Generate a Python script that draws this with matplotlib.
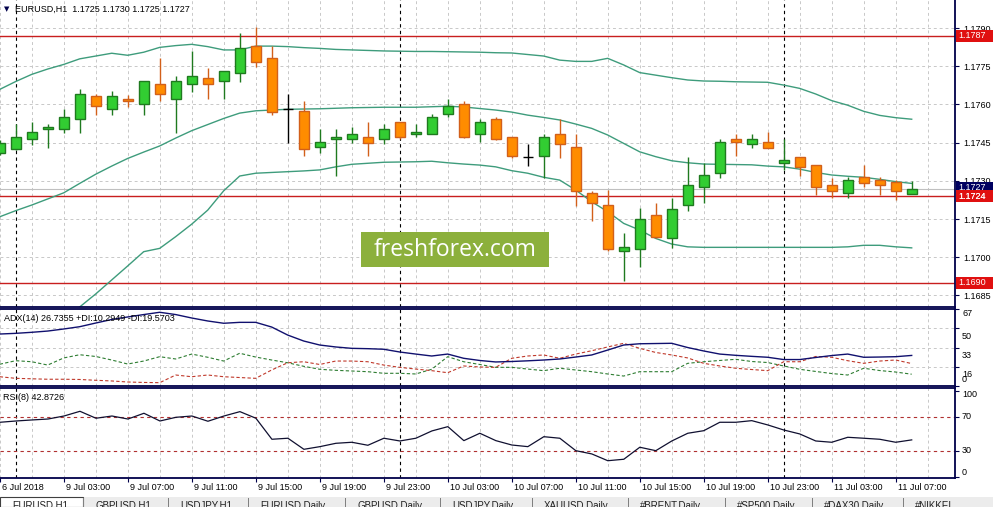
import numpy as np
import matplotlib
matplotlib.use("Agg")
import matplotlib.pyplot as plt
from matplotlib.patches import Rectangle
from matplotlib.transforms import blended_transform_factory as btf

# ---------------- data ----------------
bars = np.arange(-1, 57)  # hourly bars: 6 Jul 23:00 ... 11 Jul 08:00
opens = [1.1741, 1.17425, 1.17463, 1.17502, 1.17502, 1.17542, 1.17632, 1.17581, 1.1762, 1.1760,
         1.17679, 1.1762, 1.17679, 1.17703, 1.17691, 1.17722, 1.17829, 1.17781, 1.17581, 1.17574,
         1.17432, 1.17463, 1.17463, 1.17471, 1.17463, 1.1753, 1.17483, 1.17483, 1.17561, 1.1760,
         1.17483, 1.17542, 1.17471, 1.17392, 1.17399, 1.17483, 1.17432, 1.17253, 1.17204, 1.17023,
         1.17034, 1.17165, 1.17074, 1.17204, 1.17275, 1.17332, 1.17464, 1.17443, 1.17451, 1.17371,
         1.17394, 1.17361, 1.17282, 1.17253, 1.17314, 1.17302, 1.17294, 1.1725]
highs = [1.1746, 1.17523, 1.17532, 1.17522, 1.17581, 1.17661, 1.17641, 1.17653, 1.17638, 1.17693,
         1.17782, 1.17712, 1.1781, 1.17742, 1.17732, 1.17879, 1.17903, 1.17829, 1.17641, 1.17613,
         1.17503, 1.17505, 1.1751, 1.1753, 1.17523, 1.17533, 1.17523, 1.17561, 1.17621, 1.17613,
         1.17542, 1.17549, 1.17472, 1.17443, 1.17483, 1.17542, 1.17483, 1.17261, 1.17264, 1.17094,
         1.17192, 1.17214, 1.17231, 1.17392, 1.17371, 1.17464, 1.17484, 1.17484, 1.17491, 1.17464,
         1.17394, 1.17361, 1.17312, 1.17316, 1.17363, 1.17315, 1.17302, 1.1730]
lows = [1.1740, 1.17421, 1.17442, 1.1743, 1.17489, 1.17489, 1.17558, 1.1756, 1.17591, 1.1756,
        1.17612, 1.17489, 1.1765, 1.1762, 1.1762, 1.17689, 1.17748, 1.17558, 1.1745, 1.17397,
        1.1741, 1.1732, 1.1745, 1.17399, 1.17443, 1.17464, 1.17471, 1.17482, 1.17549, 1.1747,
        1.17451, 1.17462, 1.17391, 1.17359, 1.1731, 1.17391, 1.17202, 1.17143, 1.17023, 1.16908,
        1.16963, 1.17074, 1.17035, 1.17183, 1.17212, 1.17312, 1.17399, 1.1743, 1.1743, 1.17343,
        1.1732, 1.17246, 1.17231, 1.17231, 1.17275, 1.17246, 1.17224, 1.1725]
closes = [1.17449, 1.17472, 1.17491, 1.17511, 1.17549, 1.1764, 1.17593, 1.17632, 1.17612, 1.17691,
          1.1764, 1.17691, 1.1771, 1.17679, 1.1773, 1.1782, 1.17768, 1.17571, 1.17581, 1.17424,
          1.17451, 1.17471, 1.17483, 1.1745, 1.17502, 1.17471, 1.17491, 1.17549, 1.17593, 1.17471,
          1.1753, 1.17463, 1.17399, 1.17392, 1.17471, 1.17443, 1.17261, 1.17212, 1.17034, 1.17041,
          1.17151, 1.17081, 1.17191, 1.17282, 1.17322, 1.17451, 1.17451, 1.17464, 1.1743, 1.17381,
          1.17353, 1.17275, 1.17261, 1.17302, 1.17293, 1.17282, 1.17261, 1.1727]

bb_upper = [1.17659, 1.1769, 1.17718, 1.17739, 1.17757, 1.17779, 1.1779, 1.17801, 1.17793, 1.17805,
            1.17824, 1.17831, 1.17836, 1.17827, 1.17814, 1.17814, 1.17829, 1.17829, 1.17827, 1.17823,
            1.1782, 1.17816, 1.17814, 1.17812, 1.1781, 1.17809, 1.17808, 1.17808, 1.17807, 1.17806,
            1.17805, 1.17803, 1.17802, 1.17796, 1.1779, 1.17774, 1.17769, 1.17769, 1.17781, 1.17755,
            1.17725, 1.17715, 1.17705, 1.17696, 1.17692, 1.17691, 1.17689, 1.17688, 1.17687, 1.17676,
            1.17663, 1.17641, 1.17615, 1.17597, 1.17573, 1.17557, 1.17548, 1.17542]
bb_middle = [1.17159, 1.17183, 1.17205, 1.17229, 1.17253, 1.1729, 1.17326, 1.17358, 1.17388, 1.17413,
             1.17437, 1.17468, 1.17497, 1.17521, 1.17545, 1.17566, 1.17575, 1.17578, 1.17581, 1.17582,
             1.17583, 1.17585, 1.17587, 1.17588, 1.17589, 1.17589, 1.17589, 1.17591, 1.17593, 1.1759,
             1.17584, 1.17578, 1.1757, 1.17558, 1.17549, 1.17539, 1.17523, 1.17506, 1.1748, 1.17447,
             1.17414, 1.17395, 1.17379, 1.17371, 1.17366, 1.17365, 1.17364, 1.17363, 1.17358, 1.17355,
             1.17346, 1.17333, 1.17323, 1.17318, 1.17314, 1.17306, 1.17297, 1.1729]
bb_lower = [np.nan, np.nan, np.nan, np.nan, 1.16754, 1.16805, 1.16856, 1.16911, 1.16966, 1.17022,
            1.17035, 1.17081, 1.1713, 1.17185, 1.17261, 1.17319, 1.1733, 1.17333, 1.17336, 1.17339,
            1.17343, 1.17355, 1.17365, 1.17369, 1.17373, 1.17374, 1.17375, 1.17377, 1.17371, 1.17366,
            1.17362, 1.17355, 1.1734, 1.1733, 1.17314, 1.17303, 1.17264, 1.17218, 1.17179, 1.17133,
            1.17107, 1.17074, 1.17052, 1.17041, 1.17039, 1.17039, 1.17039, 1.17039, 1.17039, 1.17039,
            1.17039, 1.17039, 1.17039, 1.17041, 1.17047, 1.17047, 1.17041, 1.17037]

adx = [45.4, 46.0, 46.9, 48.0, 49.8, 51.8, 55.0, 58.1, 60.3, 62.4, 64.4, 62.4, 59.4, 56.8, 54.8,
       55.6, 55.6, 51.5, 44.5, 39.3, 35.8, 34.1, 32.9, 32.6, 32.1, 29.7, 27.9, 26.2, 27.9, 24.2,
       22.3, 21.0, 21.4, 22.0, 22.7, 23.6, 25.3, 27.1, 31.4, 35.8, 36.9, 37.1, 37.3, 33.6, 30.6,
       27.9, 26.8, 25.9, 25.1, 23.1, 23.1, 24.9, 26.6, 27.9, 25.1, 25.3, 25.6, 26.7]
plus_di = [19.0, 22.1, 21.2, 18.3, 24.5, 27.3, 25.8, 22.7, 19.2, 21.8, 25.6, 23.6, 27.9, 25.1, 21.8,
           28.6, 25.3, 22.7, 20.3, 17.2, 14.6, 13.7, 13.1, 12.5, 11.1, 11.1, 10.5, 14.6, 25.6, 21.2,
           18.8, 16.3, 16.3, 14.8, 13.4, 15.5, 14.0, 12.5, 10.5, 8.7, 12.5, 12.5, 12.5, 19.8, 21.2,
           22.3, 23.3, 21.4, 20.5, 17.5, 14.6, 12.7, 10.9, 9.6, 15.5, 13.5, 12.2, 10.3]
minus_di = [8.1, 6.7, 6.3, 5.9, 5.9, 5.7, 5.0, 4.4, 3.5, 3.1, 2.9, 9.6, 8.1, 9.6, 8.1, 7.4, 6.7,
            14.0, 20.3, 21.2, 18.8, 21.8, 21.8, 21.2, 18.3, 16.3, 14.8, 13.4, 11.6, 17.5, 16.6, 16.3,
            24.2, 26.2, 27.1, 24.2, 27.9, 30.8, 34.1, 37.3, 32.9, 29.3, 27.1, 24.5, 19.8, 17.5, 15.5,
            14.4, 13.4, 21.2, 21.2, 25.8, 25.1, 22.1, 19.8, 21.8, 22.7, 19.6]
rsi = [63.4, 64.9, 66.1, 67.2, 70.7, 76.2, 68.1, 70.7, 67.2, 73.9, 64.9, 69.2, 70.7, 64.6, 70.7,
       75.8, 68.1, 43.6, 44.8, 31.9, 35.0, 38.9, 40.1, 36.6, 44.8, 41.6, 44.8, 53.3, 58.3, 42.0,
       50.6, 42.0, 36.9, 35.0, 46.6, 44.8, 30.3, 26.5, 18.6, 20.3, 34.3, 30.3, 41.6, 50.6, 53.6,
       63.4, 63.4, 65.3, 60.3, 54.4, 49.8, 41.6, 40.1, 45.9, 44.8, 43.6, 40.1, 42.87]

price_ticks = [1.1790, 1.1775, 1.1760, 1.1745, 1.1730, 1.1715, 1.1700, 1.1685]
hlines = [1.1787, 1.1724, 1.1690]
bid = 1.1727
time_tick_bars = [-1, 3, 7, 11, 15, 19, 23, 27, 31, 35, 39, 43, 47, 51, 55]
time_tick_labels = ["6 Jul 2018", "9 Jul 03:00", "9 Jul 07:00", "9 Jul 11:00", "9 Jul 15:00",
                    "9 Jul 19:00", "9 Jul 23:00", "10 Jul 03:00", "10 Jul 07:00", "10 Jul 11:00",
                    "10 Jul 15:00", "10 Jul 19:00", "10 Jul 23:00", "11 Jul 03:00", "11 Jul 07:00"]
day_separators = [0, 24, 48]
adx_levels = [67, 50.25, 33.5, 16.75, 0]
adx_level_labels = ["67", "50", "33", "16", "0"]
rsi_levels = [100, 70, 30, 0]
tabs = ["EURUSD,H1", "GBPUSD,H1", "USDJPY,H1", "EURUSD,Daily", "GBPUSD,Daily", "USDJPY,Daily",
        "XAUUSD,Daily", "#BRENT,Daily", "#SP500,Daily", "#DAX30,Daily", "#NIKKEI"]

# ---------------- style ----------------
W, H = 993, 507
plt.rcParams['font.family'] = ['Liberation Sans', 'DejaVu Sans']
FS = 6.5
NAVY = '#00004a'
GRID = '#c8c8c8'
BAND = '#3e9c7c'
RED = '#c81e1e'
BULL_F, BULL_E = '#32cd32', '#1f7a1f'
BEAR_F, BEAR_E = '#ff8c00', '#d2601a'

fig = plt.figure(figsize=(W / 100, H / 100), dpi=100)
fig.patch.set_facecolor('white')


def ax_at(x0, y0, x1, y1):
    return fig.add_axes([x0 / W, 1 - y1 / H, (x1 - x0) / W, (y1 - y0) / H])


ax = ax_at(0, 0, 955, 306.7)
ax_adx = ax_at(0, 309.3, 955, 386)
ax_rsi = ax_at(0, 388.3, 955, 478.3)

xl = (-15.7 / 16, (955 - 15.7) / 16)
for a in (ax, ax_adx, ax_rsi):
    a.set_xlim(*xl)
    a.set_facecolor('white')
    for s in a.spines.values():
        s.set_color(NAVY)
        s.set_linewidth(1.3)
    a.spines['left'].set_visible(False)
    a.set_xticks([])
    a.yaxis.tick_right()
    a.tick_params(axis='y', direction='out', length=3, width=0.8, color=NAVY,
                  labelsize=FS, pad=3, labelcolor='black')
    # vertical grid
    for k in range(-1, 59, 2):
        a.axvline(k, color=GRID, lw=0.7, ls=(0, (3, 3)), zorder=0.5)
    for k in day_separators:
        a.axvline(k, color='black', lw=0.8, ls=(0, (3, 3)), zorder=0.6)
ax.spines['top'].set_visible(False)

# ---------------- main price panel ----------------
ax.set_ylim(1.16806, 1.18010)
ax.set_yticks(price_ticks)
ax.set_yticklabels([f"{p:.4f}" for p in price_ticks])
for p in price_ticks:
    ax.axhline(p, color=GRID, lw=0.7, ls=(0, (3, 3)), zorder=0.5)

ax.plot(bars, bb_upper, color=BAND, lw=1.0, zorder=2)
ax.plot(bars, bb_middle, color=BAND, lw=1.0, zorder=2)
ax.plot(bars, bb_lower, color=BAND, lw=1.0, zorder=2)

ax.axhline(bid, color='#c0c0c0', lw=0.8, zorder=1)
for lv in hlines:
    ax.axhline(lv, color=RED, lw=1.0, zorder=1.5)

o = np.array(opens); c = np.array(closes); hi = np.array(highs); lo = np.array(lows)
up = c > o
dn = c < o
dj = c == o
bw = 0.62
ax.vlines(bars[up], lo[up], hi[up], color=BULL_E, lw=1.0, zorder=3)
ax.vlines(bars[dn], lo[dn], hi[dn], color=BEAR_E, lw=1.0, zorder=3)
ax.vlines(bars[dj], lo[dj], hi[dj], color='black', lw=1.0, zorder=3)
ax.bar(bars[up], (c - o)[up], bottom=o[up], width=bw, color=BULL_F, edgecolor=BULL_E,
       linewidth=1.0, zorder=4)
ax.bar(bars[dn], (o - c)[dn], bottom=c[dn], width=bw, color=BEAR_F, edgecolor=BEAR_E,
       linewidth=1.0, zorder=4)
ax.hlines(c[dj], bars[dj] - bw / 2, bars[dj] + bw / 2, color='black', lw=1.0, zorder=4)

# ---------------- ADX panel ----------------
ax_adx.set_ylim(0, 67)
ax_adx.set_yticks(adx_levels)
ax_adx.set_yticklabels([])
for lv in adx_levels[1:-1]:
    ax_adx.axhline(lv, color=GRID, lw=0.7, ls=(0, (3, 3)), zorder=0.5)
ax_adx.plot(bars, adx, color='#10106e', lw=1.0, zorder=3)
ax_adx.plot(bars, plus_di, color='#2e7d32', lw=0.8, ls=(0, (3, 2)), zorder=2)
ax_adx.plot(bars, minus_di, color='#c0392b', lw=0.8, ls=(0, (3, 2)), zorder=2)
tr = btf(ax_adx.transAxes, ax_adx.transData)
for lv, lb in zip(adx_levels, adx_level_labels):
    if lv == adx_levels[0]:
        ax_adx.text(1.0 + 7 / 955, lv, lb, transform=tr, fontsize=FS, va='top', ha='left',
                    clip_on=False)
    elif lv == 0:
        ax_adx.text(1.0 + 7 / 955, 5.9, lb, transform=tr, fontsize=FS, va='center', ha='left',
                    clip_on=False)
    else:
        ax_adx.text(1.0 + 7 / 955, lv - 2.7, lb, transform=tr, fontsize=FS, va='top',
                    ha='left', clip_on=False)
ax_adx.text(4 / 955, 0.88, "ADX(14) 26.7355 +DI:10.2949 -DI:19.5703", transform=ax_adx.transAxes,
            fontsize=FS, va='center', ha='left', zorder=5)

# ---------------- RSI panel ----------------
ax_rsi.set_ylim(-1.9, 103.0)
ax_rsi.set_yticks(rsi_levels)
ax_rsi.set_yticklabels([])
for lv in (70, 30):
    ax_rsi.axhline(lv, color='#b03030', lw=0.8, ls=(0, (3, 3)), zorder=1)
ax_rsi.plot(bars, rsi, color='#101030', lw=0.9, zorder=3)
tr = btf(ax_rsi.transAxes, ax_rsi.transData)
for lv in rsi_levels:
    yv = lv - 4.5 if lv == 100 else (lv + 4.5 if lv == 0 else lv)
    ax_rsi.text(1.0 + 7 / 955, yv, str(lv), transform=tr, fontsize=FS, va='center', ha='left',
                clip_on=False)
ax_rsi.text(3 / 955, 0.9, "RSI(8) 42.8726", transform=ax_rsi.transAxes, fontsize=FS,
            va='center', ha='left', zorder=5)

# time axis labels
ax_rsi.set_xticks(time_tick_bars)
ax_rsi.set_xticklabels([])
ax_rsi.tick_params(axis='x', direction='out', length=3, width=0.8, color=NAVY)
trx = btf(ax_rsi.transData, ax_rsi.transAxes)
for k, lb in zip(time_tick_bars, time_tick_labels):
    ax_rsi.text(k + 0.12, -(488 - 478.3) / 90, lb, transform=trx, fontsize=FS, va='center',
                ha='left', clip_on=False)

# ---------------- overlays ----------------
fig.text(4 / W, 1 - 9 / H, "▼", fontsize=5, color=NAVY, va='center', ha='left',
         family='DejaVu Sans')
fig.text(15 / W, 1 - 9 / H, "EURUSD,H1  1.1725 1.1730 1.1725 1.1727", fontsize=FS,
         va='center', ha='left', color='black')

# right-axis price boxes
fig.canvas.draw()
def py(level):
    return ax.transData.transform((0, level))[1]

for lv in hlines:
    yc = py(lv)
    fig.add_artist(Rectangle((956, yc - 6), 37, 12, transform=None, facecolor='#e01010',
                             edgecolor='none', zorder=5))
    fig.text(958 / W, yc / H, f"{lv:.4f}", fontsize=FS, color='white', va='center', ha='left',
             zorder=6)
yc = py(bid) + 1.5
fig.add_artist(Rectangle((956, yc - 5), 37, 10, transform=None, facecolor='#000060',
                         edgecolor='none', zorder=4))
fig.text(958 / W, yc / H, f"{bid:.4f}", fontsize=FS, color='white', va='center', ha='left',
         zorder=4.5)
# re-draw red box for 1.1724 over the bid box
yc = py(hlines[1])
fig.add_artist(Rectangle((956, yc - 5.5), 37, 11, transform=None, facecolor='#e01010',
                         edgecolor='none', zorder=5))
fig.text(958 / W, yc / H, f"{hlines[1]:.4f}", fontsize=FS, color='white', va='center',
         ha='left', zorder=6)

# watermark
fig.add_artist(Rectangle((361, H - 267), 188, 35, transform=None, facecolor='#8cb03c',
                         edgecolor='none', zorder=5))
fig.text(455 / W, 1 - 250 / H, "freshforex.com", fontsize=16.5, color='white', va='center',
         ha='center', family=['Open Sans', 'DejaVu Sans'], zorder=6)

# bottom tab bar
fig.add_artist(Rectangle((0, 0), W, 10, transform=None, facecolor='#ececec', edgecolor='none',
                         zorder=5))
fig.add_artist(Rectangle((0, 0), 83, 10, transform=None, facecolor='white',
                         edgecolor='#404040', lw=0.8, zorder=5.5))
tab_x = [0, 83, 168, 248, 345, 440, 532, 628, 725, 812, 903]
for i, (tx, name) in enumerate(zip(tab_x, tabs)):
    if i > 0:
        fig.add_artist(Rectangle((tx, 0), 0.8, 9, transform=None, facecolor='#808080',
                                 edgecolor='none', zorder=6))
    fig.text((tx + 12) / W, 1 / H, name, fontsize=7, color='#202020', va='center', ha='left',
             zorder=7)

fig.savefig("out.png", dpi=100, facecolor='white')
